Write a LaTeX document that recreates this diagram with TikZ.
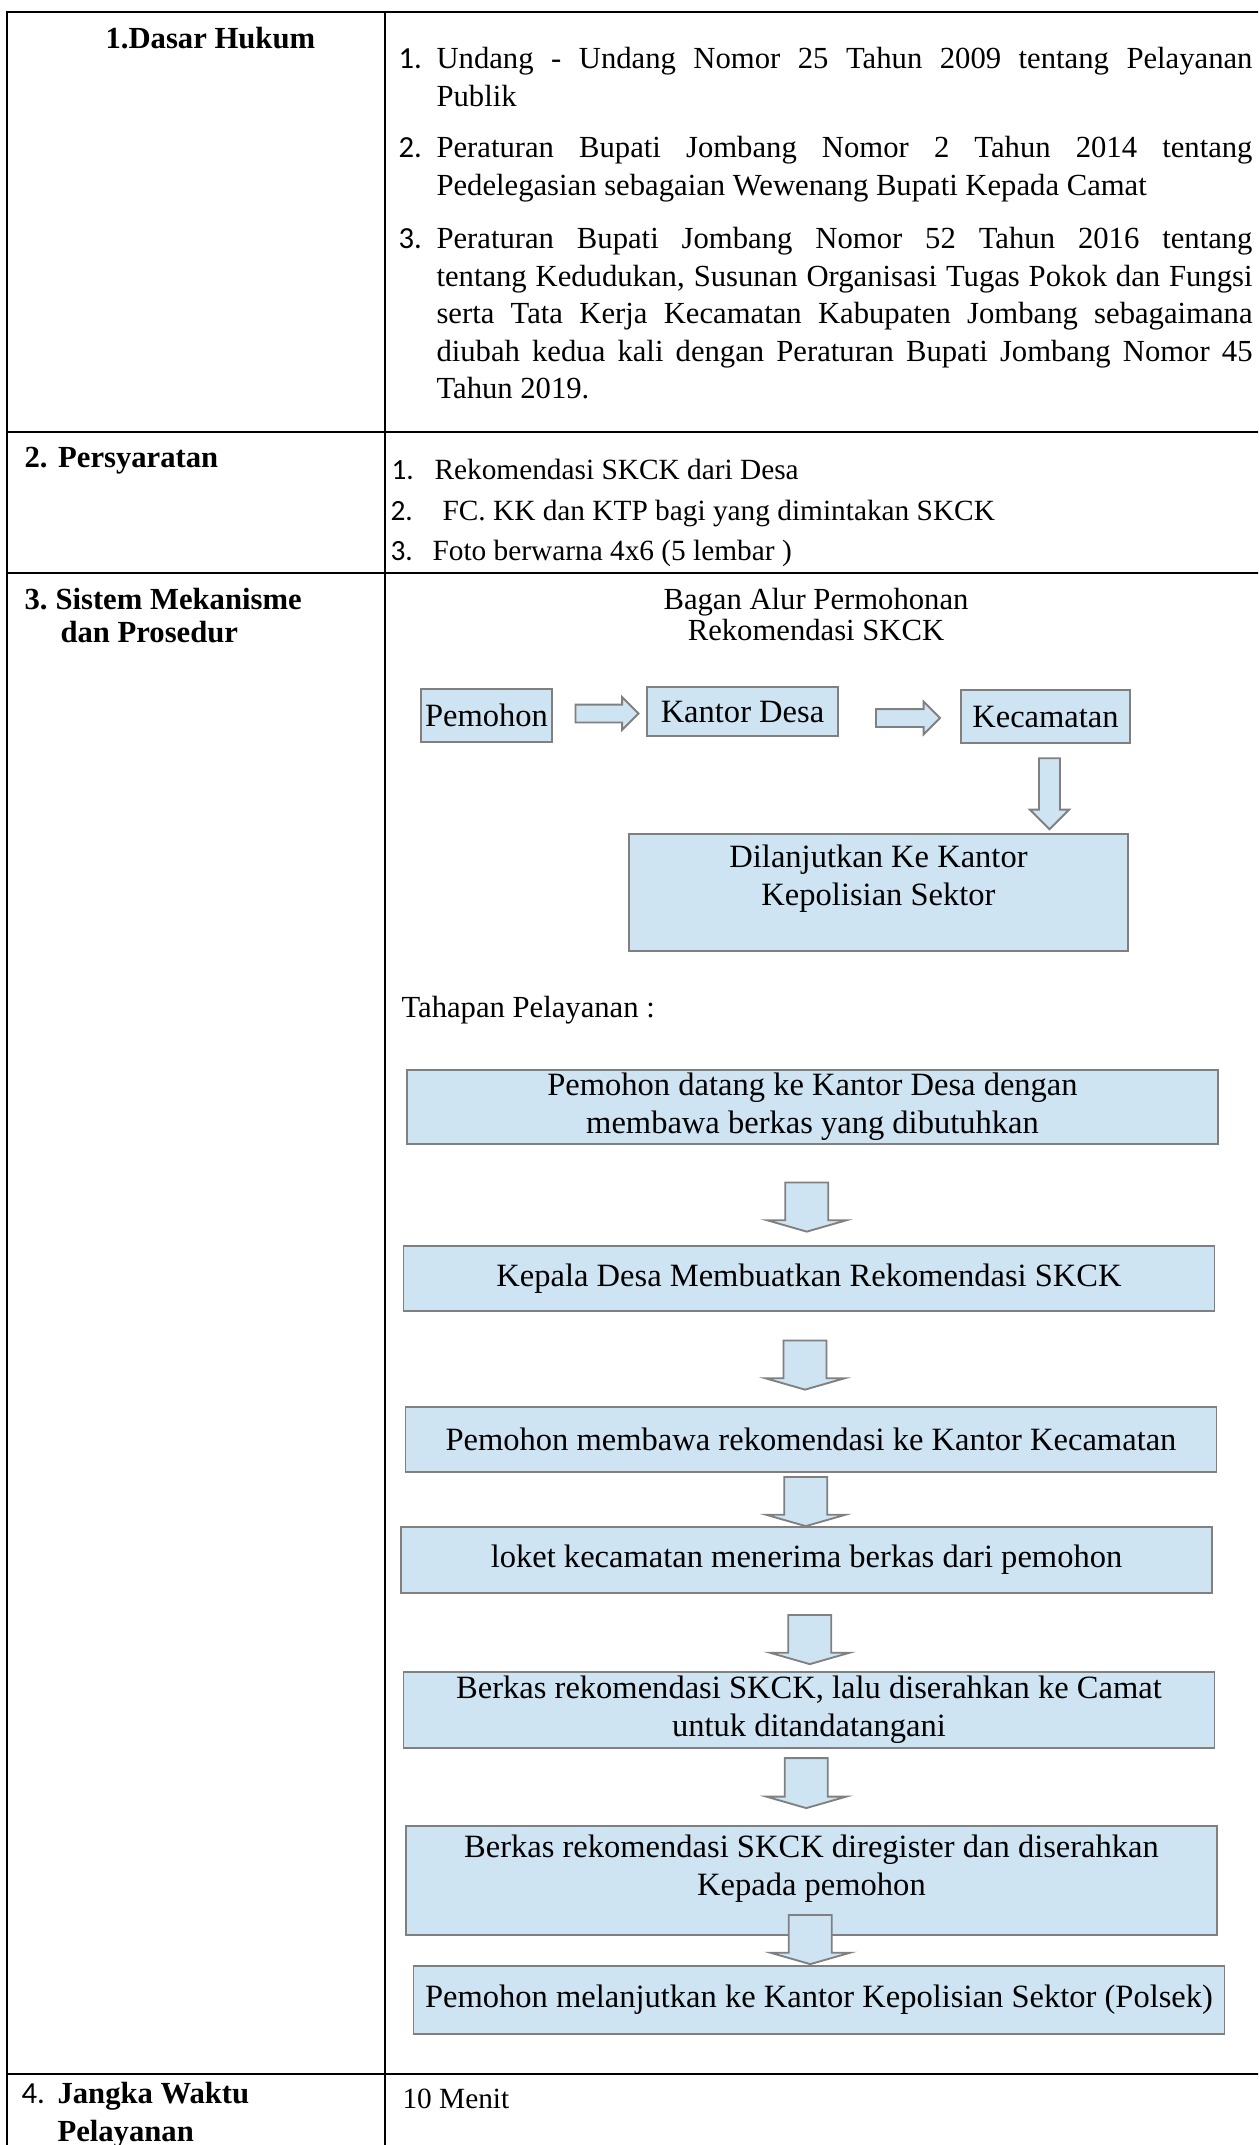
\documentclass[tikz,border=0pt]{standalone}
\usepackage{fontspec}
\setmainfont{Liberation Serif}
\newfontfamily\numfont{Carlito}
\usetikzlibrary{shapes.arrows, calc, positioning}

\definecolor{FlowBlue}{RGB}{206,228,243}
\definecolor{FlowGrey}{RGB}{128,128,128}

% one pixel of the page
\newcommand{\pxu}{0.375pt}

\tikzset{
    % Table rules
    tablerule/.style={
        line width=0.9pt,
        color=black
    },
    % Row heading in the left column
    rowhead/.style={
        anchor=base west,
        inner sep=0pt,
        font=\fontsize{11.5}{14}\selectfont\bfseries
    },
    % List number
    listnum/.style={
        anchor=base west,
        inner sep=0pt,
        font=\fontsize{11.5}{14}\selectfont\numfont
    },
    % Plain cell text
    celltext/.style={
        anchor=base west,
        inner sep=0pt,
        font=\fontsize{11.5}{14}\selectfont
    },
    % Justified paragraph of the right column
    lawtext/.style={
        anchor=north west,
        inner sep=0pt,
        yshift=8pt,
        text width=306pt,
        align=justify,
        font=\fontsize{11.5}{14.06}\selectfont,
        execute at begin node={\hyphenpenalty=10000\rule{0pt}{8pt}}
    },
    % Flow box
    flowbox/.style={
        rectangle,
        draw=FlowGrey,
        fill=FlowBlue,
        line width=0.7pt,
        inner sep=0pt,
        align=center,
        font=\fontsize{12.2}{14.25}\selectfont
    },
    % Text set over a tall box
    flowtext/.style={
        inner sep=0pt,
        align=center,
        font=\fontsize{12.2}{14.25}\selectfont
    },
    % Step box
    stepbox/.style={
        flowbox,
        minimum width=811*\pxu
    },
    % Hollow block arrow
    blockarrow/.style={
        single arrow,
        draw=FlowGrey,
        fill=FlowBlue,
        line width=0.7pt,
        inner sep=3pt,
        single arrow head extend=2.8pt
    },
    % Block arrow pointing down
    downarrow/.style={
        blockarrow,
        shape border rotate=270,
        inner sep=3.6pt,
        single arrow head extend=3.4pt
    },
    % Wide flat arrow between steps
    steparrow/.style={
        blockarrow,
        shape border rotate=270,
        inner sep=7.7pt,
        single arrow head extend=6.9pt,
        single arrow tip angle=148,
        minimum height=40*\pxu
    }
}

\begin{document}
\begin{tikzpicture}[x=\pxu, y=-\pxu]
\useasboundingbox (0,0) rectangle (1258,2145);
\clip (0,0) rectangle (1258,2145);

% table
\draw[tablerule] (1270,12) -| (7,2160);
\draw[tablerule] (385,12) -- (385,2160);
\foreach \y in {432,573,2074}
    \draw[tablerule] (7,\y) -- (1270,\y);

% 1. Dasar Hukum
\node[rowhead] (hukum) at (105,48) {1.Dasar Hukum};
\node[listnum] (n11) at (398,68) {1.};
\node[lawtext] (uu) at (436,68) {Undang - Undang Nomor 25 Tahun 2009 tentang Pelayanan\linebreak Publik};
\node[listnum] (n12) at (398,157) {2.};
\node[lawtext] (perbup2) at (436,157) {Peraturan Bupati Jombang Nomor 2 Tahun 2014 tentang\linebreak Pedelegasian sebagaian Wewenang Bupati Kepada Camat};
\node[listnum] (n13) at (398,248) {3.};
\node[lawtext] (perbup52) at (436,248) {Peraturan Bupati Jombang Nomor 52 Tahun 2016 tentang\linebreak tentang Kedudukan, Susunan Organisasi Tugas Pokok dan Fungsi\linebreak serta Tata Kerja Kecamatan Kabupaten Jombang sebagaimana\linebreak diubah kedua kali dengan Peraturan Bupati Jombang Nomor 45\linebreak Tahun 2019.};

% 2. Persyaratan
\node[rowhead] (syarat) at (24,467) {2.\hspace{4pt}Persyaratan};
\node[listnum, font=\fontsize{11}{14}\selectfont\numfont] (n21) at (391,479) {1.};
\node[celltext, font=\fontsize{11}{14}\selectfont] (rek) at (434,479) {Rekomendasi SKCK dari Desa};
\node[listnum, font=\fontsize{11}{14}\selectfont\numfont] (n22) at (390,520) {2.};
\node[celltext, font=\fontsize{11}{14}\selectfont] (fc) at (442,520) {FC. KK dan KTP bagi yang dimintakan SKCK};
\node[listnum, font=\fontsize{11}{14}\selectfont\numfont] (n23) at (390,560) {3.};
\node[celltext, font=\fontsize{11}{14}\selectfont] (foto) at (432,560) {Foto berwarna 4x6 (5 lembar )};

% 3. Sistem Mekanisme dan Prosedur
\node[rowhead] (mek1) at (24,609) {3.\hspace{3pt}Sistem Mekanisme};
\node[rowhead] (mek2) at (60,642) {dan Prosedur};
\node[celltext, anchor=base] (judul1) at (816,609) {Bagan Alur Permohonan};
\node[celltext, anchor=base] (judul2) at (816,640) {Rekomendasi SKCK};

\node[flowbox, minimum width=131*\pxu, minimum height=53*\pxu] (pemohon) at (486.5,715.5) {Pemohon};
\node[flowbox, minimum width=191*\pxu, minimum height=49*\pxu] (desa) at (742.5,711.5) {Kantor Desa};
\node[flowbox, minimum width=169*\pxu, minimum height=53*\pxu] (kec) at (1045.5,716.5) {Kecamatan};
\node[flowbox, minimum width=499*\pxu, minimum height=117*\pxu] (lanjut) at (878.5,892.5) {};
\node[flowtext] (lanjutteks) at ($(lanjut.center)+(0,-14)$) {Dilanjutkan Ke Kantor\\Kepolisian Sektor};

\node[blockarrow, minimum height=63*\pxu] (ar1) at ($(pemohon.east)!0.5!(desa.west)+(3,0)$) {};
\node[blockarrow, minimum height=64*\pxu] (ar2) at ($(desa.east)!0.5!(kec.west)+(4,4)$) {};
\node[downarrow, minimum height=71*\pxu] (ar3) at ($(kec.south)!0.5!(kec.south |- lanjut.north)+(4,0)$) {};

\node[celltext] (tahapan) at (401,1017) {Tahapan Pelayanan :};

% steps
\node[stepbox, minimum height=74*\pxu] (s1) at (812.5,1107) {Pemohon datang ke Kantor Desa dengan\\membawa berkas yang dibutuhkan};
\node[stepbox, minimum height=65*\pxu] (s2) at (809,1278.5) {Kepala Desa Membuatkan Rekomendasi SKCK};
\node[stepbox, minimum height=65*\pxu] (s3) at (811,1439.5) {Pemohon membawa rekomendasi ke Kantor Kecamatan};
\node[stepbox, minimum height=66*\pxu] (s4) at (806.5,1560) {loket kecamatan menerima berkas dari pemohon};
\node[stepbox, minimum height=76*\pxu] (s5) at (809,1710) {Berkas rekomendasi SKCK, lalu diserahkan ke Camat\\untuk ditandatangani};
\node[stepbox, minimum height=109*\pxu] (s6) at (811.5,1880.5) {};
\node[flowtext] (s6teks) at ($(s6.center)+(0,-12)$) {Berkas rekomendasi SKCK diregister dan diserahkan\\Kepada pemohon};
\node[stepbox, minimum height=68*\pxu] (s7) at (819,2000) {Pemohon melanjutkan ke Kantor Kepolisian Sektor (Polsek)};

\node[steparrow] (t1) at ($(s1.south)!0.5!(s2.north)+(-4,9)$) {};
\node[steparrow] (t2) at ($(s2.south)!0.5!(s3.north)+(-5,3)$) {};
\node[steparrow] (t3) at ($(s3.south)!0.5!(s4.north)+(-3,-1)$) {};
\node[steparrow] (t4) at ($(s4.south)!0.5!(s5.north)+(2,4)$) {};
\node[steparrow, minimum height=50*\pxu] (t5) at ($(s5.south)!0.5!(s6.north)+(-4,-7)$) {};
\node[steparrow] (t6) at ($(s6.south)!0.5!(s7.north)+(-5,-14)$) {};

% 4. Jangka Waktu Pelayanan
\node[listnum] (n4) at (21,2103) {4.};
\node[rowhead] (waktu1) at (57,2103) {Jangka Waktu};
\node[rowhead] (waktu2) at (57,2141) {Pelayanan};
\node[celltext, font=\fontsize{11}{14}\selectfont] (menit) at (402,2108) {10 Menit};
\end{tikzpicture}
\end{document}
